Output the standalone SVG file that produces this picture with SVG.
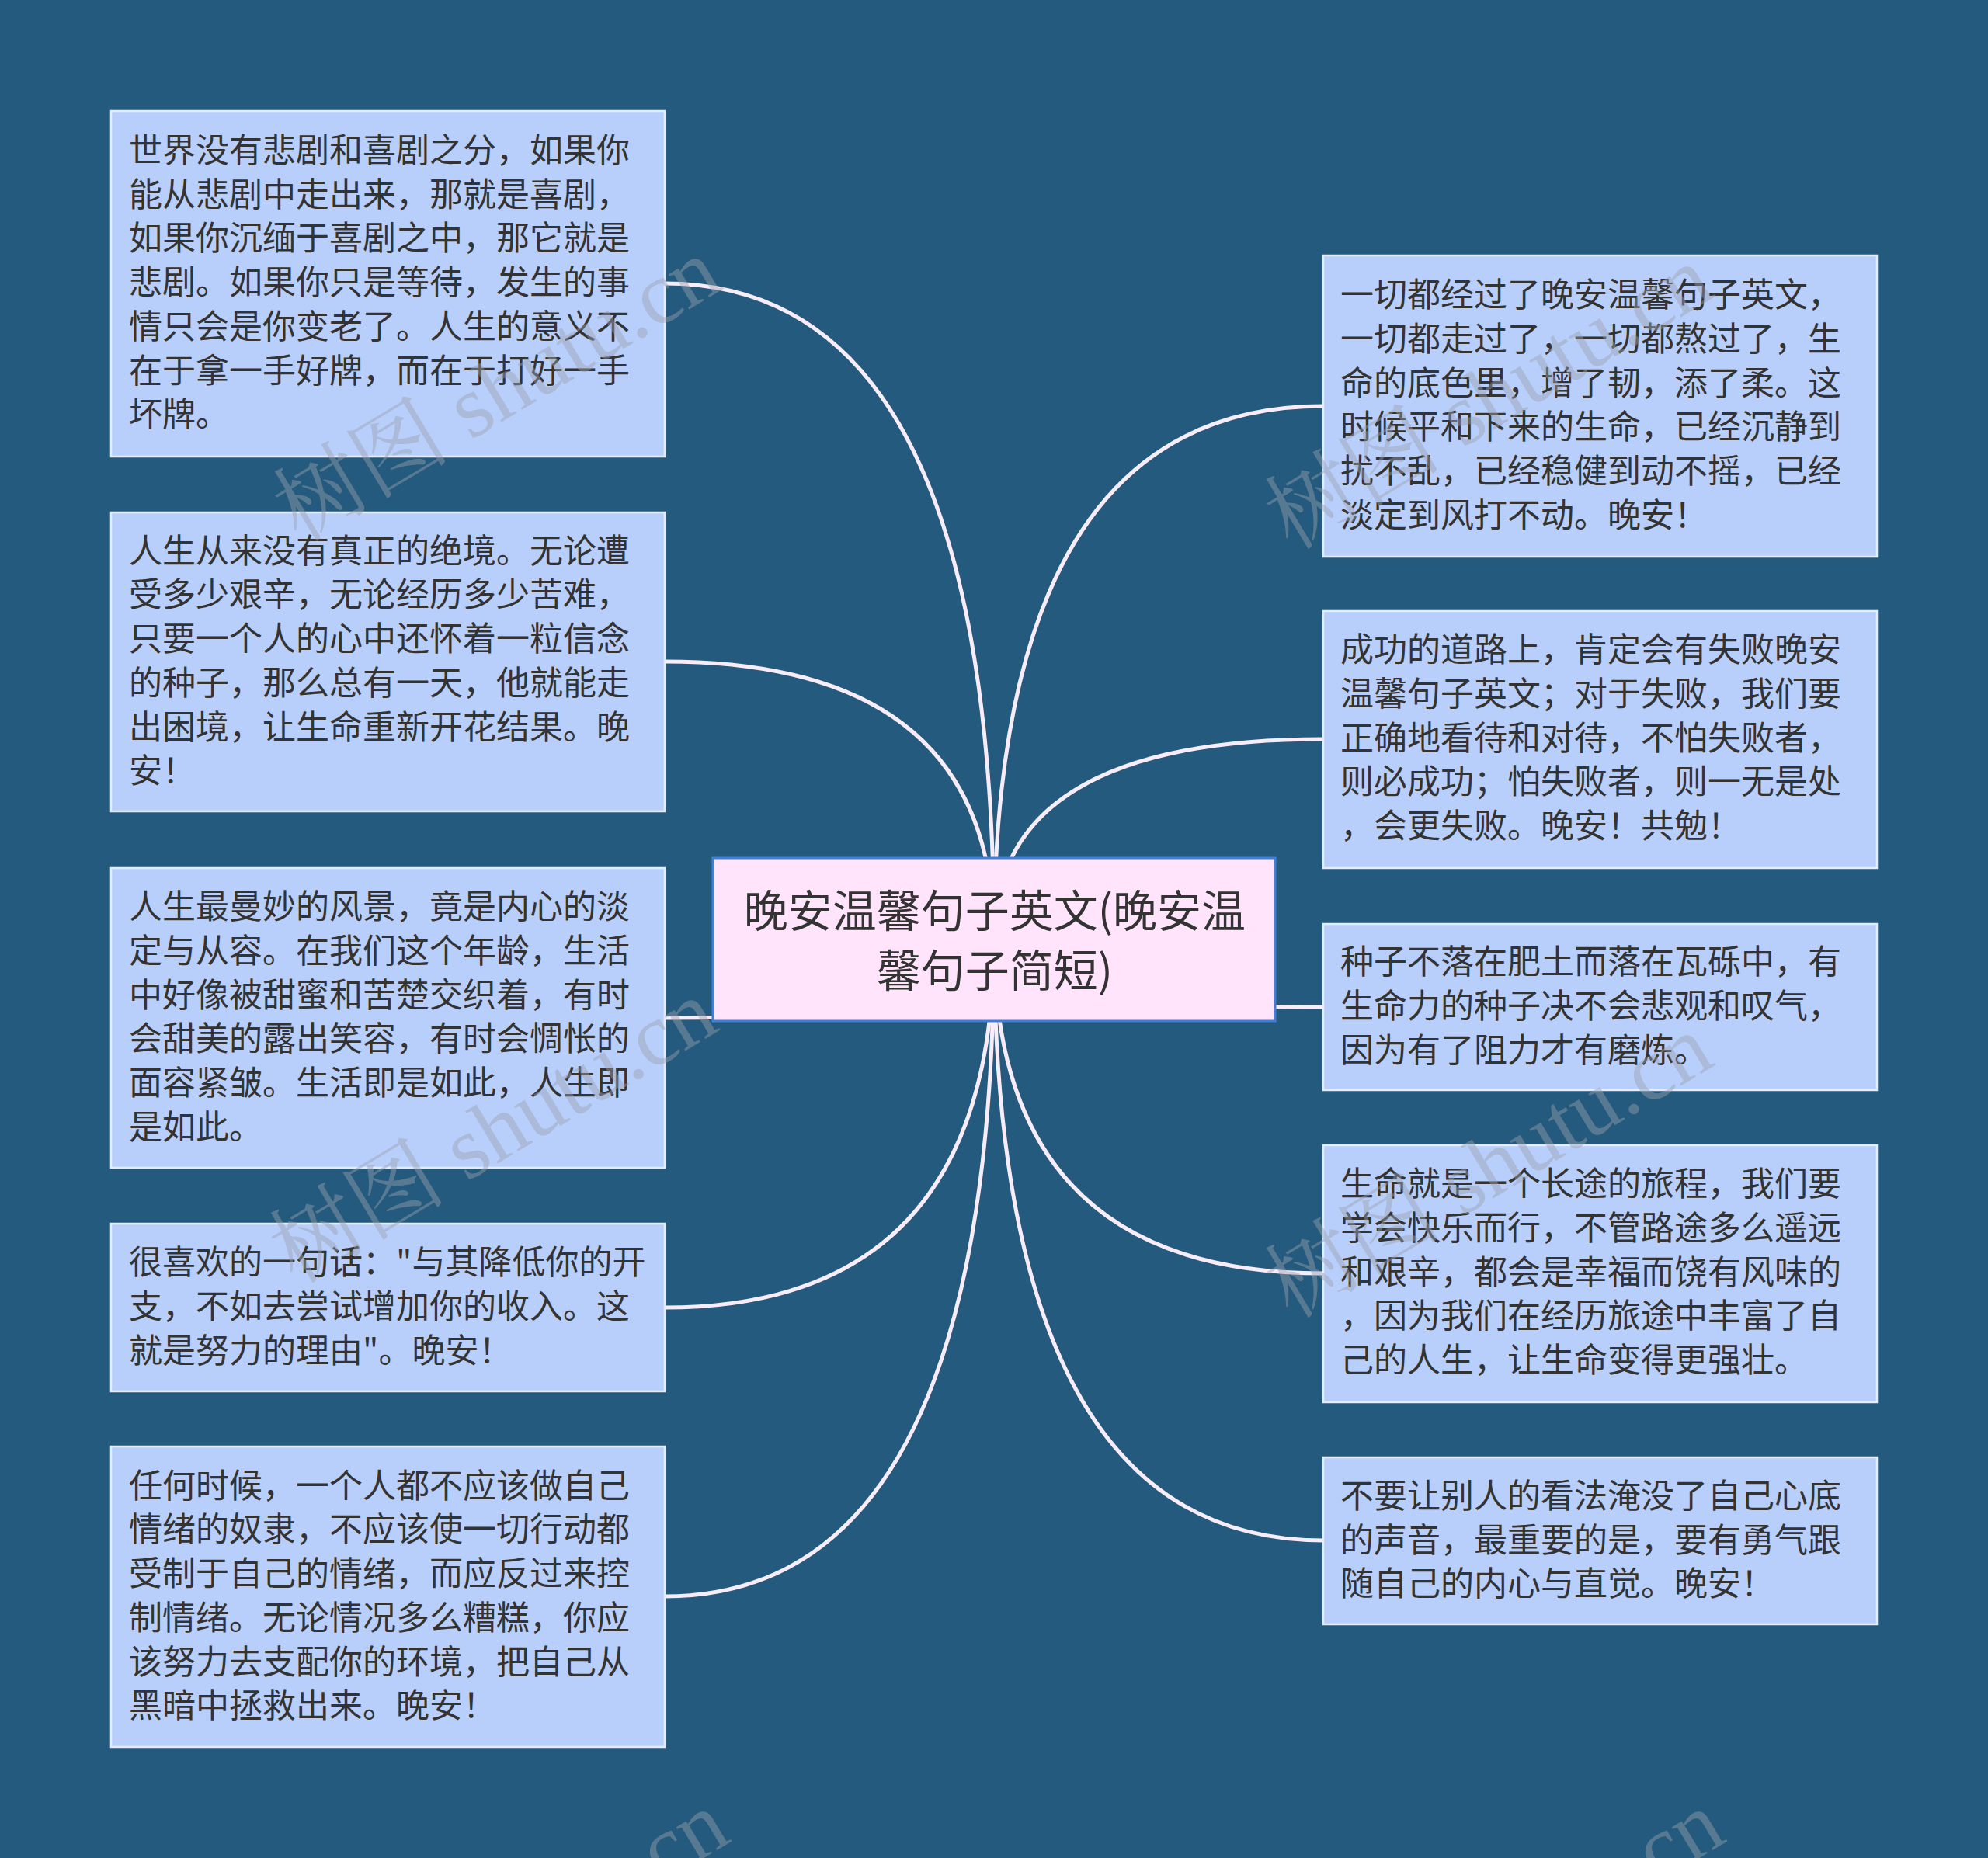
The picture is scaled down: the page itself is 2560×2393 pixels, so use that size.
<svg xmlns="http://www.w3.org/2000/svg" width="2560" height="2393" viewBox="0 0 2560 2393">
<defs>
<style>
.bg{fill:#245a7d}
.box{fill:#b9cffb;stroke:#e4edff;stroke-width:2.5}
.root{fill:#ffe4fb;stroke:#3f7fdc;stroke-width:3}
.t{font-family:"Noto Sans CJK SC","Noto Sans",sans-serif;font-size:43px;fill:#333333}
.rt{font-family:"Noto Sans CJK SC","Noto Sans",sans-serif;font-size:57px;fill:#333333;text-anchor:middle}
.ln{fill:none;stroke:#f7ecf8;stroke-width:5;stroke-linecap:round}
.wm{font-family:"Liberation Serif","Noto Serif CJK SC","Noto Sans CJK SC",serif;font-size:114px;fill:#9a9fae;fill-opacity:0.45}
</style>
</defs>
<rect class="bg" x="0" y="0" width="2560" height="2393"/>
<g id="connectors">
<path class="ln" d="M1280,1210 Q1280,365 856,365"/>
<path class="ln" d="M1280,1210 Q1280,852 856,852"/>
<path class="ln" d="M1280,1210 Q1280,1311 856,1311"/>
<path class="ln" d="M1280,1210 Q1280,1684 856,1684"/>
<path class="ln" d="M1280,1210 Q1280,2056 856,2056"/>
<path class="ln" d="M1280,1210 Q1280,523 1704,523"/>
<path class="ln" d="M1280,1210 Q1280,952 1704,952"/>
<path class="ln" d="M1280,1210 Q1280,1297 1704,1297"/>
<path class="ln" d="M1280,1210 Q1280,1640 1704,1640"/>
<path class="ln" d="M1280,1210 Q1280,1984 1704,1984"/>
</g>
<g id="n-l1">
<rect class="box" x="143" y="143" width="713" height="445"/>
<text class="t" x="166" y="209">世界没有悲剧和喜剧之分，如果你</text>
<text class="t" x="166" y="265.7">能从悲剧中走出来，那就是喜剧，</text>
<text class="t" x="166" y="322.4">如果你沉缅于喜剧之中，那它就是</text>
<text class="t" x="166" y="379.1">悲剧。如果你只是等待，发生的事</text>
<text class="t" x="166" y="435.8">情只会是你变老了。人生的意义不</text>
<text class="t" x="166" y="492.5">在于拿一手好牌，而在于打好一手</text>
<text class="t" x="166" y="549.2">坏牌。</text>
</g>
<g id="n-l2">
<rect class="box" x="143" y="660" width="713" height="385"/>
<text class="t" x="166" y="724.7">人生从来没有真正的绝境。无论遭</text>
<text class="t" x="166" y="781.4">受多少艰辛，无论经历多少苦难，</text>
<text class="t" x="166" y="838.1">只要一个人的心中还怀着一粒信念</text>
<text class="t" x="166" y="894.8">的种子，那么总有一天，他就能走</text>
<text class="t" x="166" y="951.5">出困境，让生命重新开花结果。晚</text>
<text class="t" x="166" y="1008.2">安！</text>
</g>
<g id="n-l3">
<rect class="box" x="143" y="1118" width="713" height="386"/>
<text class="t" x="166" y="1183.2">人生最曼妙的风景，竟是内心的淡</text>
<text class="t" x="166" y="1239.9">定与从容。在我们这个年龄，生活</text>
<text class="t" x="166" y="1296.6">中好像被甜蜜和苦楚交织着，有时</text>
<text class="t" x="166" y="1353.3">会甜美的露出笑容，有时会惆怅的</text>
<text class="t" x="166" y="1410">面容紧皱。生活即是如此，人生即</text>
<text class="t" x="166" y="1466.7">是如此。</text>
</g>
<g id="n-l4">
<rect class="box" x="143" y="1576" width="713" height="216"/>
<text class="t" x="166" y="1641.3">很喜欢的一句话："与其降低你的开</text>
<text class="t" x="166" y="1698">支，不如去尝试增加你的收入。这</text>
<text class="t" x="166" y="1754.7">就是努力的理由"。晚安！</text>
</g>
<g id="n-l5">
<rect class="box" x="143" y="1863" width="713" height="387"/>
<text class="t" x="166" y="1928.7">任何时候，一个人都不应该做自己</text>
<text class="t" x="166" y="1985.4">情绪的奴隶，不应该使一切行动都</text>
<text class="t" x="166" y="2042.1">受制于自己的情绪，而应反过来控</text>
<text class="t" x="166" y="2098.8">制情绪。无论情况多么糟糕，你应</text>
<text class="t" x="166" y="2155.5">该努力去支配你的环境，把自己从</text>
<text class="t" x="166" y="2212.2">黑暗中拯救出来。晚安！</text>
</g>
<g id="n-r1">
<rect class="box" x="1704" y="329" width="713" height="388"/>
<text class="t" x="1726" y="395.3">一切都经过了晚安温馨句子英文，</text>
<text class="t" x="1726" y="452">一切都走过了，一切都熬过了，生</text>
<text class="t" x="1726" y="508.7">命的底色里，增了韧，添了柔。这</text>
<text class="t" x="1726" y="565.4">时候平和下来的生命，已经沉静到</text>
<text class="t" x="1726" y="622.1">扰不乱，已经稳健到动不摇，已经</text>
<text class="t" x="1726" y="678.8">淡定到风打不动。晚安！</text>
</g>
<g id="n-r2">
<rect class="box" x="1704" y="787" width="713" height="331"/>
<text class="t" x="1726" y="852.1">成功的道路上，肯定会有失败晚安</text>
<text class="t" x="1726" y="908.8">温馨句子英文；对于失败，我们要</text>
<text class="t" x="1726" y="965.5">正确地看待和对待，不怕失败者，</text>
<text class="t" x="1726" y="1022.2">则必成功；怕失败者，则一无是处</text>
<text class="t" x="1726" y="1078.9">，会更失败。晚安！共勉！</text>
</g>
<g id="n-r3">
<rect class="box" x="1704" y="1190" width="713" height="214"/>
<text class="t" x="1726" y="1254.3">种子不落在肥土而落在瓦砾中，有</text>
<text class="t" x="1726" y="1311">生命力的种子决不会悲观和叹气，</text>
<text class="t" x="1726" y="1367.7">因为有了阻力才有磨炼。</text>
</g>
<g id="n-r4">
<rect class="box" x="1704" y="1475" width="713" height="331"/>
<text class="t" x="1726" y="1540.1">生命就是一个长途的旅程，我们要</text>
<text class="t" x="1726" y="1596.8">学会快乐而行，不管路途多么遥远</text>
<text class="t" x="1726" y="1653.5">和艰辛，都会是幸福而饶有风味的</text>
<text class="t" x="1726" y="1710.2">，因为我们在经历旅途中丰富了自</text>
<text class="t" x="1726" y="1766.9">己的人生，让生命变得更强壮。</text>
</g>
<g id="n-r5">
<rect class="box" x="1704" y="1877" width="713" height="215"/>
<text class="t" x="1726" y="1941.8">不要让别人的看法淹没了自己心底</text>
<text class="t" x="1726" y="1998.5">的声音，最重要的是，要有勇气跟</text>
<text class="t" x="1726" y="2055.2">随自己的内心与直觉。晚安！</text>
</g>
<g id="n-root">
<rect class="root" x="918" y="1105" width="724" height="210"/>
<text class="rt" x="1281" y="1194">晚安温馨句子英文(晚安温</text>
<text class="rt" x="1281" y="1271">馨句子简短)</text>
</g>
<g id="watermark">
<text class="wm" text-anchor="middle" transform="translate(660,535) rotate(-31)">树图 shutu.cn</text>
<text class="wm" text-anchor="middle" transform="translate(655,1490) rotate(-31)">树图 shutu.cn</text>
<text class="wm" text-anchor="middle" transform="translate(1937,545) rotate(-31)">树图 shutu.cn</text>
<text class="wm" text-anchor="middle" transform="translate(1937,1535) rotate(-31)">树图 shutu.cn</text>
<text class="wm" text-anchor="middle" transform="translate(670,2535) rotate(-31)">树图 shutu.cn</text>
<text class="wm" text-anchor="middle" transform="translate(1952,2535) rotate(-31)">树图 shutu.cn</text>
</g>
</svg>
